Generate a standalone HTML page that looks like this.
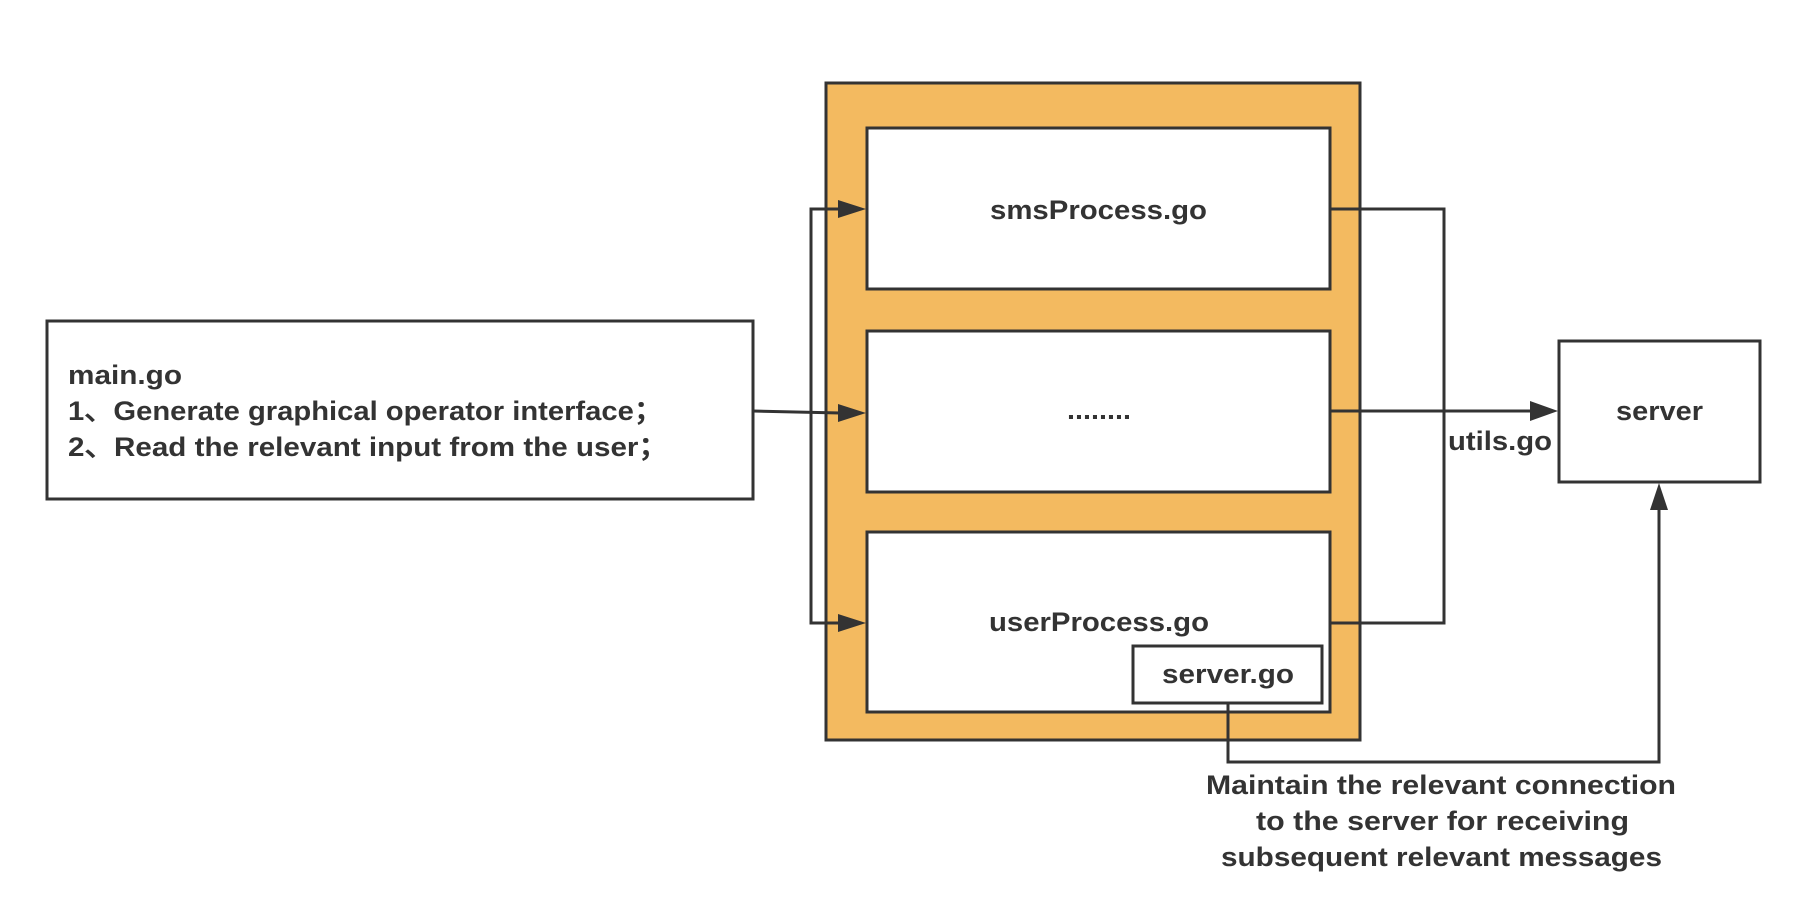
<!DOCTYPE html>
<html><head><meta charset="utf-8"><style>html,body{margin:0;padding:0;background:#fff}svg{display:block}</style></head>
<body>
<svg width="1798" height="910" xmlns="http://www.w3.org/2000/svg" font-family="Liberation Sans, sans-serif" fill="#333">
<rect x="0" y="0" width="1798" height="910" fill="#fff"/>
<rect x="826" y="83" width="534" height="657" fill="#F3BA60" stroke="#333" stroke-width="3"/>
<rect x="867" y="128" width="463" height="161" fill="#fff" stroke="#333" stroke-width="3"/>
<rect x="867" y="331" width="463" height="161" fill="#fff" stroke="#333" stroke-width="3"/>
<rect x="867" y="532" width="463" height="180" fill="#fff" stroke="#333" stroke-width="3"/>
<rect x="1133" y="646" width="189" height="57" fill="#fff" stroke="#333" stroke-width="3"/>
<rect x="47" y="321" width="706" height="178" fill="#fff" stroke="#333" stroke-width="3"/>
<rect x="1559" y="341" width="201" height="141" fill="#fff" stroke="#333" stroke-width="3"/>
<g stroke="#333" stroke-width="3" fill="none">
<polyline points="840,209 811,209 811,623 840,623"/>
<line x1="753" y1="411" x2="840" y2="413"/>
<polyline points="1330,209 1444,209 1444,623 1330,623"/>
<line x1="1330" y1="411" x2="1532" y2="411"/>
<polyline points="1228,703 1228,762 1659,762 1659,510"/>
</g>
<polygon points="838,200 866,209 838,218"/>
<polygon points="838,404 866,413 838,422"/>
<polygon points="838,614 866,623 838,632"/>
<polygon points="1530,401 1558,411 1530,421"/>
<polygon points="1650,510 1659,483 1668,510"/>
<g font-size="27" font-weight="bold" lengthAdjust="spacingAndGlyphs">
<text x="68" y="384" textLength="114" lengthAdjust="spacingAndGlyphs">main.go</text>
<text x="68" y="420" textLength="595" lengthAdjust="spacingAndGlyphs">1、Generate graphical operator interface；</text>
<text x="68" y="456" textLength="600" lengthAdjust="spacingAndGlyphs">2、Read the relevant input from the user；</text>
<text x="990" y="219" textLength="217" lengthAdjust="spacingAndGlyphs">smsProcess.go</text>
<text x="1067" y="419" textLength="64" lengthAdjust="spacingAndGlyphs">........</text>
<text x="989" y="631" textLength="220" lengthAdjust="spacingAndGlyphs">userProcess.go</text>
<text x="1162" y="683" textLength="132" lengthAdjust="spacingAndGlyphs">server.go</text>
<text x="1616" y="420" textLength="87" lengthAdjust="spacingAndGlyphs">server</text>
<text x="1448" y="450" textLength="104" lengthAdjust="spacingAndGlyphs">utils.go</text>
<text x="1206" y="794" textLength="470" lengthAdjust="spacingAndGlyphs">Maintain the relevant connection</text>
<text x="1256" y="830" textLength="373" lengthAdjust="spacingAndGlyphs">to the server for receiving</text>
<text x="1221" y="866" textLength="441" lengthAdjust="spacingAndGlyphs">subsequent relevant messages</text>
</g>
</svg>
</body></html>
